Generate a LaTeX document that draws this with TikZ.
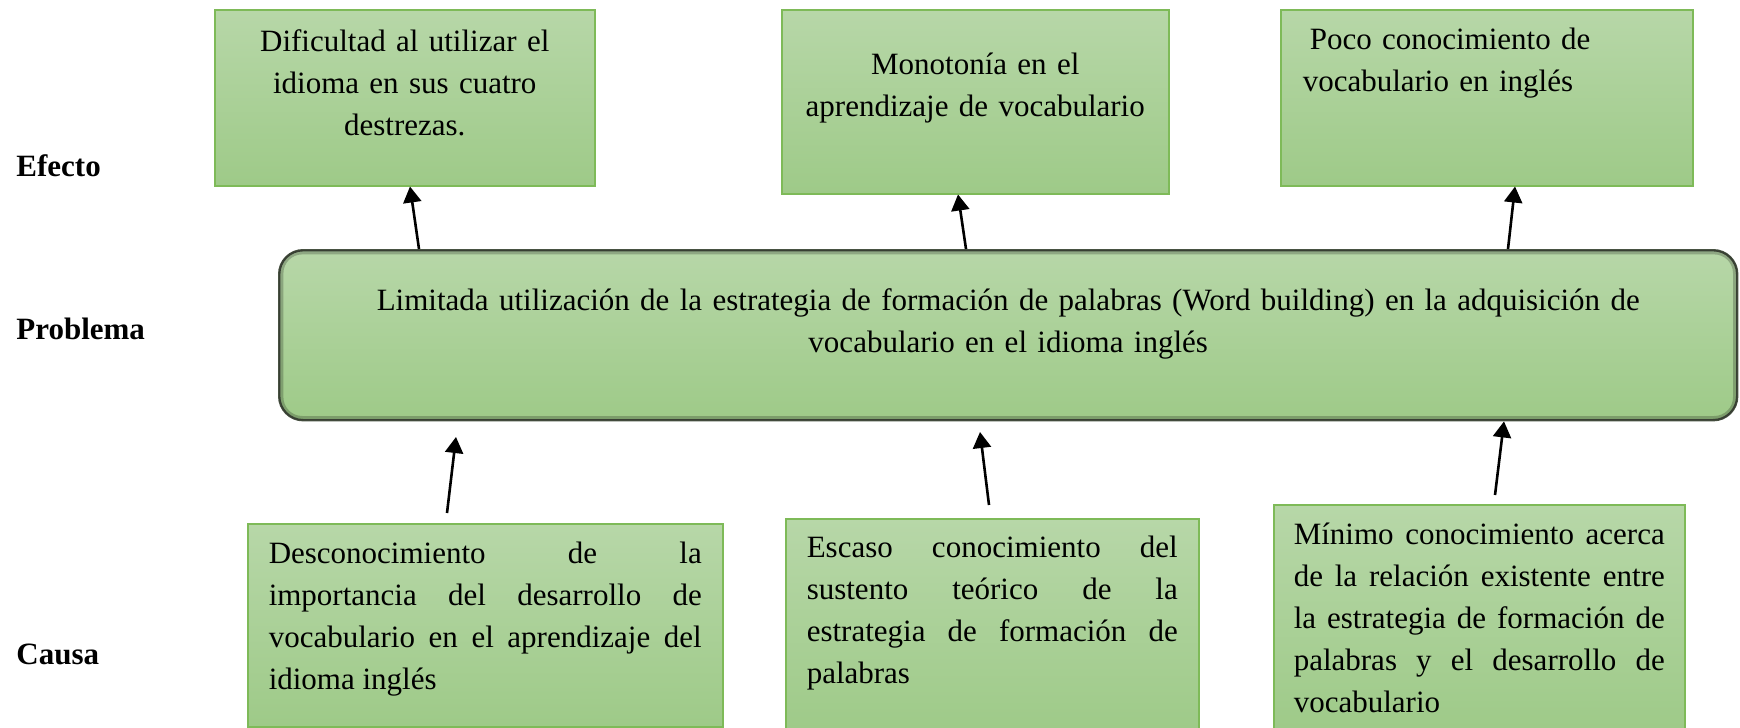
\documentclass[tikz,border=0pt]{standalone}
\usepackage{fontspec}
\setmainfont{Liberation Serif}
\usetikzlibrary{arrows.meta}

\definecolor{verdeA}{RGB}{183,215,168}
\definecolor{verdeB}{RGB}{158,202,136}
\definecolor{borde}{RGB}{126,186,88}
\definecolor{sombra}{RGB}{72,82,66}

\tikzstyle{caja} = [anchor=north west, inner ysep=0pt, top color=verdeA, bottom color=verdeB,
    draw=borde, line width=0.75pt, font=\fontsize{15.5}{21}\selectfont]
\tikzstyle{efecto} = [caja, align=center]
\tikzstyle{causa} = [caja, align=justify, inner xsep=10.5pt]
\tikzstyle{problema} = [caja, align=center, rounded corners=12pt, draw=sombra, line width=1.2pt]
\tikzstyle{bisel} = [rounded corners=10.5pt, draw=black, draw opacity=0.22, line width=2.2pt]
\tikzstyle{etiqueta} = [anchor=base west, inner sep=0pt, font=\fontsize{15.5}{21}\selectfont\bfseries]
\tikzstyle{flecha} = [-{Triangle[length=8pt,width=9pt]}, line width=1.3pt]

\begin{document}
\begin{tikzpicture}[x=0.5pt, y=-0.5pt]
\useasboundingbox (0,0) rectangle (1740,728);

% etiquetas de la izquierda
\node[etiqueta] (lEfecto) at (16,176) {Efecto};
\node[etiqueta] (lProblema) at (16,339) {Problema};
\node[etiqueta] (lCausa) at (16,664) {Causa};

% efectos
\node[efecto, inner xsep=10pt, text width=170pt, text height=21pt, text depth=67pt]
    (ef1) at (214,9) {Dificultad al utilizar el\\ idioma en sus cuatro\\ destrezas.};
\node[efecto, inner xsep=5pt, text width=183.5pt, text height=32.5pt, text depth=59.5pt]
    (ef2) at (781,9) {Monotonía en el\\ aprendizaje de vocabulario};
\node[efecto, align=left, inner xsep=11pt, text width=184pt, text height=20pt, text depth=68pt]
    (ef3) at (1280,9) {\hspace*{3.5pt}Poco conocimiento de\\ vocabulario en inglés};

% problema
\node[problema, inner xsep=30pt, text width=669pt, text height=30pt, text depth=55pt]
    (prob) at (278,249) {Limitada utilización de la estrategia de formación de palabras (Word building) en la adquisición de\\ vocabulario en el idioma inglés};
\draw[bisel] ([xshift=1.6pt,yshift=-1.6pt]prob.north west) rectangle ([xshift=-1.6pt,yshift=1.6pt]prob.south east);

% causas
\node[causa, text width=216.5pt, text height=20pt, text depth=81.5pt]
    (ca1) at (247,523) {Desconocimiento de la\linebreak importancia del desarrollo de\linebreak vocabulario en el aprendizaje del\linebreak idioma inglés};
\node[causa, text width=185.5pt, text height=19.5pt, text depth=87.5pt]
    (ca2) at (785,518) {Escaso conocimiento del\linebreak sustento teórico de la\linebreak estrategia de formación de\linebreak palabras};
\node[causa, inner xsep=10pt, text width=185.5pt, text height=20pt, text depth=94pt]
    (ca3) at (1273,504) {Mínimo conocimiento acerca\linebreak de la relación existente entre\linebreak la estrategia de formación de\linebreak palabras y el desarrollo de\linebreak vocabulario};

% flechas problema -> efectos
\draw[flecha] (419,0 |- prob.north) -- (410,0 |- ef1.south);
\draw[flecha] (966,0 |- prob.north) -- (958,0 |- ef2.south);
\draw[flecha] (1508,0 |- prob.north) -- (1515,0 |- ef3.south);

% flechas causas -> problema
\coordinate (c1a) at (447,513);
\coordinate (c1b) at (456,437);
\coordinate (c2a) at (989,505);
\coordinate (c2b) at (980,432);
\coordinate (c3a) at (1495,495);
\draw[flecha] (c1a) -- (c1b);
\draw[flecha] (c2a) -- (c2b);
\draw[flecha] (c3a) -- (1504,0 |- prob.south);
\end{tikzpicture}
\end{document}
